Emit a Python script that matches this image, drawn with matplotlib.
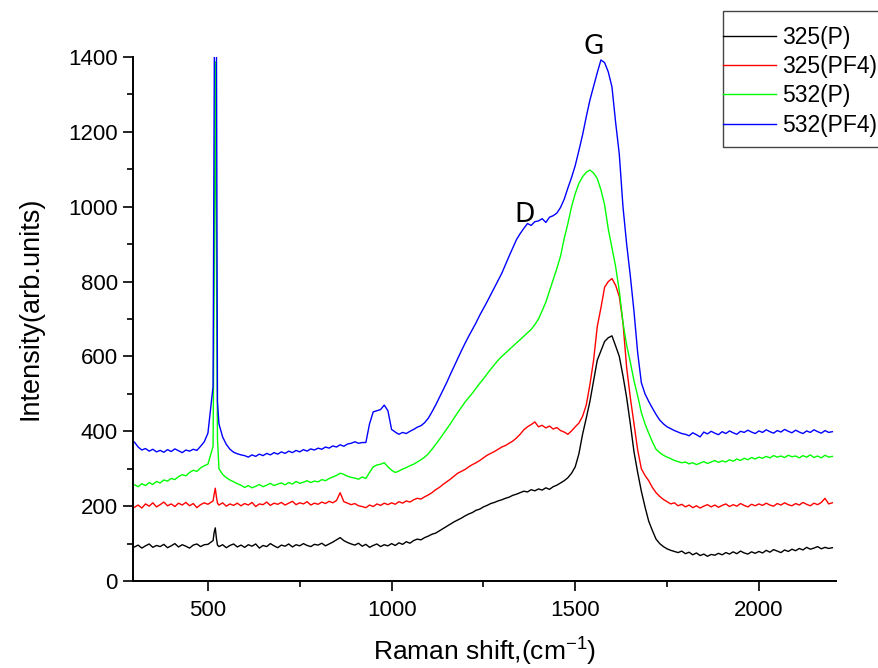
import matplotlib
matplotlib.use("Agg")
import matplotlib.pyplot as plt
from matplotlib.patches import Rectangle
from matplotlib.ticker import MultipleLocator

plt.rcParams['font.family'] = ['Liberation Sans', 'DejaVu Sans']
plt.rcParams['mathtext.default'] = 'regular'

# Raman shift axis (cm^-1), finer around the Si line at 520
shift = (list(range(300, 510, 10))
         + [514, 517, 520, 523, 526]
         + list(range(530, 2201, 10)))

p325 = [91, 96, 88, 94, 99, 90, 95, 92, 98, 89,
        94, 100, 91, 97, 93, 88, 96, 99, 92, 97,
        98, 108, 130, 142, 115, 96,
        92, 97, 89, 95, 99, 91, 96,
        90, 97, 93, 99, 88, 95, 92, 100, 94, 89,
        96, 93, 99, 91, 97, 94, 100, 95, 92, 98,
        96, 101, 94, 99, 104, 110, 116, 108, 103, 99,
        96, 101, 93, 98, 90, 95, 99, 92, 97, 94,
        100, 95, 102, 98, 105, 101, 108, 112, 110, 116,
        120, 125, 128, 134, 140, 146, 152, 158, 163, 168,
        174, 179, 183, 189, 192, 198, 202, 207, 210, 214,
        217, 221, 224, 229, 232, 236, 240, 238, 244, 241,
        246, 243, 249, 245, 252, 256, 262, 268, 276, 288,
        305, 340, 392, 435, 480, 535, 590, 615, 640, 650,
        655, 628, 600, 548, 490, 420, 345, 290, 240, 198,
        160, 135, 112, 100, 92, 86, 82, 79, 76, 80,
        73, 77, 70, 75, 68, 72, 66, 71, 69, 74,
        70, 76, 72, 78, 73, 80, 75, 72, 78, 74,
        79, 75, 82, 77, 84, 80, 76, 83, 79, 85,
        81, 87, 83, 90, 85, 88, 92, 86, 90, 87,
        89]

pf4_325 = [197, 203, 195, 206, 200, 209, 198, 204, 211, 201,
           206, 199, 208, 203, 210, 201, 207, 196, 204, 209,
           205, 214, 232, 248, 226, 208,
           203, 209, 200, 206, 202, 208, 201,
           207, 203, 210, 199, 206, 204, 211, 202, 208, 205,
           210, 203, 208, 213, 204, 209, 206, 212, 203, 208,
           205, 211, 207, 213, 209, 215, 236, 212, 208, 204,
           207, 201, 199, 196, 203, 199, 206, 202, 208, 204,
           209, 205, 212, 208, 214, 211, 217, 221, 219, 225,
           230, 236, 244, 250, 258, 265, 272, 280, 288, 293,
           298, 305, 311, 316, 322, 329, 336, 341, 346, 352,
           358, 362, 368, 374, 382, 392, 404, 412, 418, 425,
           412, 416, 409, 414, 406, 410, 402, 398, 392, 401,
           412, 422, 440, 470, 525, 590, 680, 730, 785, 800,
           808, 790, 760, 690, 570, 490, 420, 350, 300, 282,
           268, 250, 236, 226, 218, 212, 206, 209, 201, 205,
           198, 203, 196, 201, 195, 200, 204, 198, 203, 197,
           202, 206, 199, 204, 200, 207, 202, 198, 205, 201,
           206, 202, 208, 203, 200, 207, 203, 209, 204, 201,
           207, 203, 210, 205, 201, 208, 204, 210, 221, 206,
           209]

p532 = [257, 252, 260, 255, 263, 258, 266, 262, 270, 267,
        274, 271, 279, 284, 281, 290, 296, 293, 302, 308,
        312, 360, 800, 1387, 900, 380,
        300, 285, 276, 270, 265, 260, 256,
        250, 255, 249, 253, 258, 252, 256, 261, 255, 259,
        262, 257, 263, 259, 266, 261, 264, 268, 263, 267,
        265, 271, 268, 274, 278, 282, 288, 285, 280, 277,
        275, 272, 278, 274, 290, 305, 310, 312, 316, 305,
        296, 290, 294, 299, 303, 308, 312, 318, 324, 331,
        340, 352, 365, 378, 392, 406, 420, 435, 450, 464,
        478, 490, 502, 515, 528, 540, 553, 566, 578, 590,
        600, 609, 618, 627, 636, 645, 654, 663, 672, 685,
        700, 722, 745, 775, 805, 835, 868, 915, 955, 1000,
        1035, 1062, 1080, 1092, 1098, 1090, 1075, 1045, 1005, 940,
        890, 840, 775, 690, 630, 585, 535, 495, 450, 420,
        395, 372, 352, 343, 336, 331, 327, 322, 319, 316,
        318, 313, 316, 311, 315, 319, 314, 318, 322, 317,
        321, 318, 324, 320, 326, 322, 328, 324, 330, 326,
        331, 328, 333, 329, 335, 331, 334, 330, 336, 332,
        334, 329, 335, 331, 337, 330, 334, 329, 336, 331,
        333]

pf4_532 = [371, 358, 350, 354, 347, 352, 345, 349, 344, 351,
           346, 353, 348, 343, 350, 347, 352, 349, 360, 372,
           395, 520, 1300, 2000, 1500, 480,
           420, 385, 365, 352, 344, 340, 337,
           335, 331, 337, 333, 339, 335, 341, 337, 343, 339,
           345, 341, 347, 343, 349, 345, 351, 347, 353, 350,
           355, 352, 358, 355, 361, 358, 364, 360, 366, 368,
           372, 368, 370, 370, 420, 452, 455, 458, 470, 455,
           405, 398, 392, 397, 394, 400, 405, 411, 415, 423,
           435, 452, 470, 490, 510, 530, 552, 573, 594, 615,
           635, 654, 672, 690, 710, 728, 746, 765, 784, 803,
           822, 845, 868, 890, 912, 928, 942, 955, 950, 960,
           962, 968, 958, 972, 976, 983, 998, 1020, 1050, 1078,
           1110, 1150, 1192, 1240, 1285, 1322, 1358, 1392, 1385, 1360,
           1320, 1225, 1140, 1000, 900, 815, 720, 610, 530, 500,
           480, 462, 445, 430, 420, 412, 407, 402, 398, 394,
           392, 388, 396, 391, 385, 398, 393, 400, 395, 391,
           399, 394, 401, 396, 392, 400, 397, 403, 398, 394,
           401, 397, 404, 399, 395, 402, 398, 405, 400, 396,
           403, 398, 394, 401, 397, 404, 399, 395, 402, 397,
           399]

labels = ['325(P)', '325(PF4)', '532(P)', '532(PF4)']
colors = ['black', 'red', '#00ff00', 'blue']

fig = plt.figure(figsize=(8.79, 6.68), dpi=100)
ax = fig.add_axes([0.1513, 0.1302, 0.7998, 0.7845])

for ys, lab, c in zip([p325, pf4_325, p532, pf4_532], labels, colors):
    assert len(ys) == len(shift)
    ax.plot(shift, ys, color=c, lw=1.0, label=lab)

ax.set_xlim(296, 2210)
ax.set_ylim(0, 1400)
ax.spines['top'].set_visible(False)
ax.spines['right'].set_visible(False)
for s in ['left', 'bottom']:
    ax.spines[s].set_linewidth(1.4)

ax.xaxis.set_major_locator(MultipleLocator(500))
ax.xaxis.set_minor_locator(MultipleLocator(250))
ax.yaxis.set_major_locator(MultipleLocator(200))
ax.yaxis.set_minor_locator(MultipleLocator(100))
ax.tick_params(which='major', direction='out', length=7.5, width=1.2,
               labelsize=16)
ax.tick_params(axis='y', which='major', pad=3.5)
ax.tick_params(axis='x', which='major', pad=6)
ax.tick_params(which='minor', direction='out', length=4.5, width=1.2)

ax.set_xlabel('Raman shift,(cm$^{-1}$)', fontsize=19, labelpad=11)
ax.set_ylabel('Intensity(arb.units)', fontsize=19.5)
ax.yaxis.set_label_coords(-0.128, 0.521)

ax.text(1551, 1427, 'G', fontsize=19, ha='center', va='center',
        family='DejaVu Sans', clip_on=False)
ax.text(1363, 978, 'D', fontsize=19, ha='center', va='center',
        family='DejaVu Sans')

fig.legend(loc='upper left', bbox_to_anchor=(723 / 879, 1 - 26 / 668),
           frameon=False, borderpad=0, fontsize=16.5, handlelength=2.3,
           handletextpad=0.3, labelspacing=0.27, borderaxespad=0)
fig.patches.append(Rectangle((723 / 879, 1 - 147 / 668), 0.3, 136 / 668,
                             transform=fig.transFigure, fill=False,
                             edgecolor='#444444', lw=1.0))

fig.savefig('out.png', dpi=100)
